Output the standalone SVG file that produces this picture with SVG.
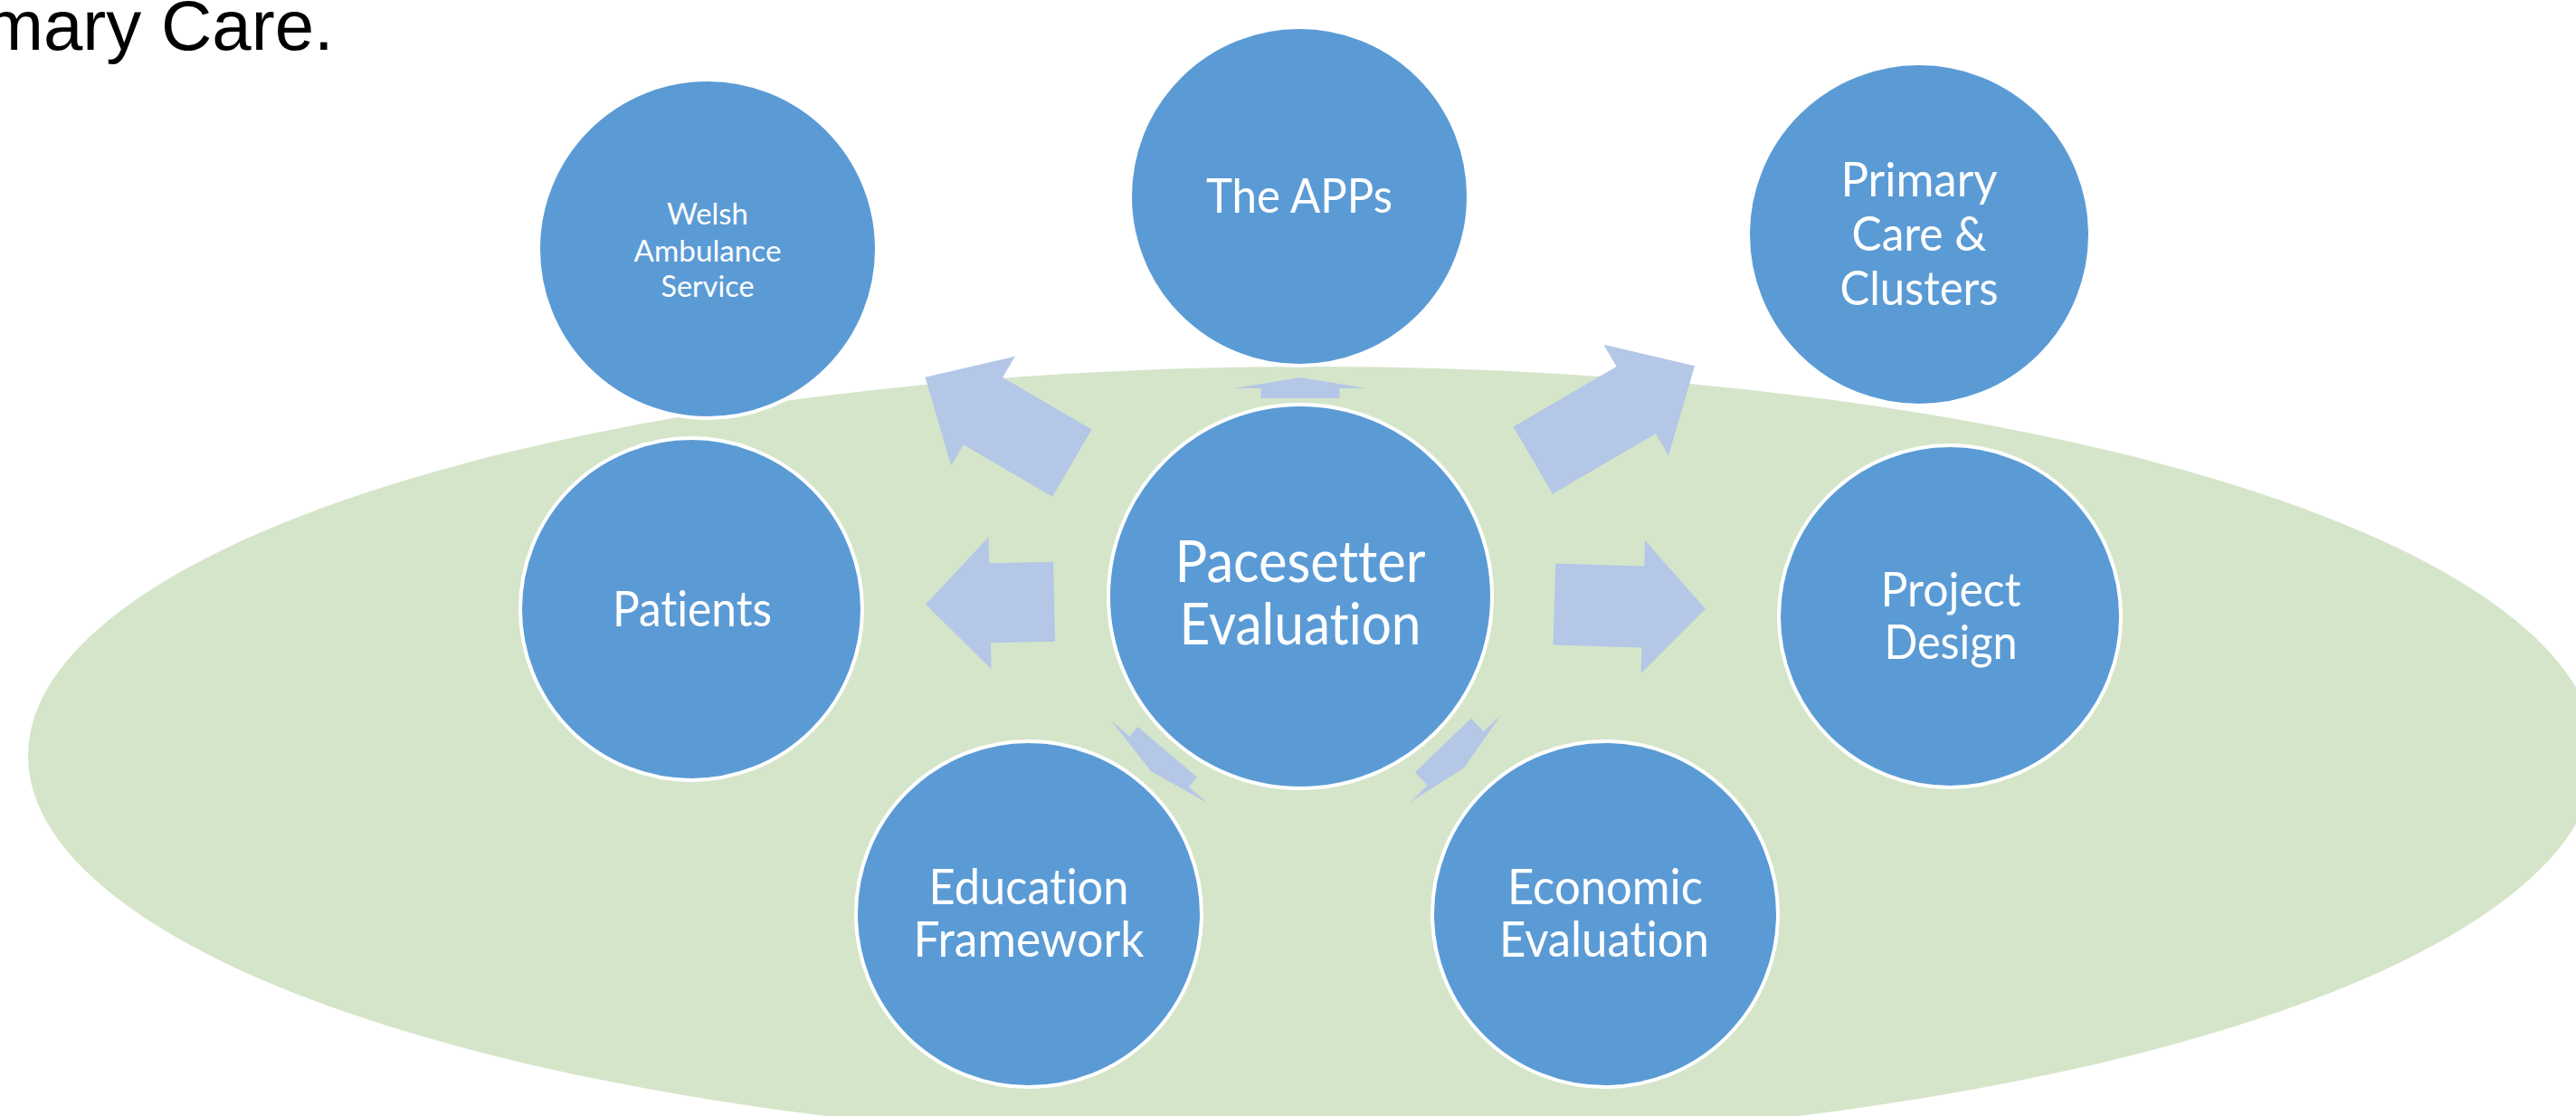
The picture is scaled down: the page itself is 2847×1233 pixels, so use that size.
<svg xmlns="http://www.w3.org/2000/svg" width="2847" height="1233" viewBox="0 0 2847 1233">
  <style>
    .bubble { fill: #5B9BD5; stroke: #FFFFFF; stroke-width: 4; }
    .label { fill: #FFFFFF; font-family: Lato, "Open Sans", sans-serif; text-anchor: middle; font-variant-ligatures: none; font-feature-settings: "liga" 0, "clig" 0, "dlig" 0, "calt" 0; }
    .arrow { fill: #B4C7E7; stroke: none; }
    .caption { fill: #000000; font-family: "Liberation Sans", Arial, sans-serif; }
  </style>

  <rect x="0" y="0" width="2847" height="1233" fill="#FFFFFF"/>

  <!-- tail of the sentence above the figure -->
  <text class="caption" x="-17" y="55" font-size="78">mary Care.</text>

  <!-- green backdrop -->
  <ellipse id="backdrop" cx="1450" cy="835" rx="1419" ry="430" fill="#D5E5CA"/>

  <!-- radial arrows out of the hub -->
  <g id="connectors">
    <polygon class="arrow" transform="translate(1437,659) rotate(178.8)" points="272,-44 343,-44 343,-73 414,0 343,73 343,44 272,44"/>
    <polygon class="arrow" transform="translate(1437,659) rotate(1.75)" points="281,-45 379,-45 379,-73.5 448,0 379,73.5 379,45 281,45"/>
    <polygon class="arrow" transform="translate(1437,659) rotate(-30.3)" points="298,-43 430,-43 430,-71 505,0 430,71 430,43 298,43"/>
    <polygon class="arrow" transform="translate(1437,659) rotate(-149.7)" points="292,-43 406,-43 406,-70 480,0 406,70 406,43 292,43"/>
    <polygon class="arrow" transform="translate(1437,659) rotate(-90)" points="219,-43.5 230,-43.5 230,-73 242,0 230,73 230,43.5 219,43.5"/>
    <polygon class="arrow" transform="translate(1437,659) rotate(130.5)" points="226,-43 240,-43 240,-70 254,0 240,70 240,43 226,43"/>
    <polygon class="arrow" transform="translate(1437,659) rotate(46.2)" points="228,-43 248,-43 248,-70 262,0 248,70 248,43 228,43"/>
  </g>

  <g id="welsh-ambulance">
    <circle class="bubble" cx="782" cy="275" r="187"/>
    <text class="label" font-size="33" x="782" y="248" textLength="90" lengthAdjust="spacingAndGlyphs">Welsh</text>
    <text class="label" font-size="33" x="782" y="289" textLength="163" lengthAdjust="spacingAndGlyphs">Ambulance</text>
    <text class="label" font-size="33" x="782" y="328" textLength="103" lengthAdjust="spacingAndGlyphs">Service</text>
  </g>

  <g id="the-apps">
    <circle class="bubble" cx="1436" cy="217" r="187"/>
    <text class="label" font-size="53" x="1436" y="235" textLength="206" lengthAdjust="spacingAndGlyphs">The APPs</text>
  </g>

  <g id="primary-care">
    <circle class="bubble" cx="2121" cy="259" r="189"/>
    <text class="label" font-size="52" x="2121" y="217" textLength="173" lengthAdjust="spacingAndGlyphs">Primary</text>
    <text class="label" font-size="52" x="2121" y="277" textLength="149" lengthAdjust="spacingAndGlyphs">Care &amp;</text>
    <text class="label" font-size="52" x="2121" y="337" textLength="175" lengthAdjust="spacingAndGlyphs">Clusters</text>
  </g>

  <g id="patients">
    <circle class="bubble" cx="764" cy="673" r="189"/>
    <text class="label" font-size="54" x="765" y="692" textLength="176" lengthAdjust="spacingAndGlyphs">Patients</text>
  </g>

  <g id="pacesetter-evaluation">
    <circle class="bubble" cx="1437" cy="659" r="212"/>
    <text class="label" font-size="64" x="1437" y="643" textLength="277" lengthAdjust="spacingAndGlyphs">Pacesetter</text>
    <text class="label" font-size="64" x="1437" y="712" textLength="267" lengthAdjust="spacingAndGlyphs">Evaluation</text>
  </g>

  <g id="project-design">
    <circle class="bubble" cx="2155" cy="681" r="189"/>
    <text class="label" font-size="52" x="2156" y="670" textLength="155" lengthAdjust="spacingAndGlyphs">Project</text>
    <text class="label" font-size="52" x="2156" y="728" textLength="147" lengthAdjust="spacingAndGlyphs">Design</text>
  </g>

  <g id="education-framework">
    <circle class="bubble" cx="1137" cy="1010" r="191"/>
    <text class="label" font-size="54" x="1137" y="999" textLength="221" lengthAdjust="spacingAndGlyphs">Education</text>
    <text class="label" font-size="54" x="1137" y="1057" textLength="255" lengthAdjust="spacingAndGlyphs">Framework</text>
  </g>

  <g id="economic-evaluation">
    <circle class="bubble" cx="1774" cy="1010" r="191"/>
    <text class="label" font-size="54" x="1774" y="999" textLength="216" lengthAdjust="spacingAndGlyphs">Economic</text>
    <text class="label" font-size="54" x="1773" y="1057" textLength="232" lengthAdjust="spacingAndGlyphs">Evaluation</text>
  </g>
</svg>
